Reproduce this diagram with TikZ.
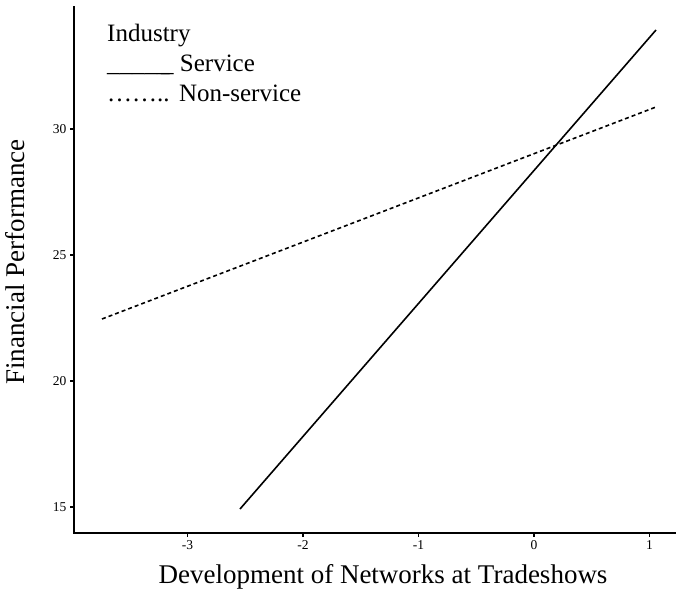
\documentclass[tikz,border=0pt]{standalone}
\usepackage{fontspec}
\setmainfont{Liberation Serif}
\begin{document}
\begin{tikzpicture}[x=1pt,y=1pt,
  axisline/.style={line width=2pt, line cap=rect},
  tickmark/.style={line width=1.2pt},
  ticklab/.style={font=\fontsize{13.5}{15}\selectfont, inner sep=0pt},
  servline/.style={line width=1.6pt},
  nonservline/.style={line width=1.6pt, dash pattern=on 4pt off 3pt},
  legtext/.style={font=\fontsize{25}{30}\selectfont, inner sep=0pt, anchor=base west},
  axlab/.style={font=\fontsize{27}{32}\selectfont, inner sep=0pt}
]
\useasboundingbox (0,0) rectangle (676,595);
% axes
\coordinate (ytop) at (74,588);
\coordinate (origin) at (74,62);
\coordinate (xend) at (676,62);
\draw[axisline] (ytop) -- (origin) -- (xend);
% y ticks: Y = 88 + 25.2 (y-15)
\foreach \v/\yy in {15/88, 20/214, 25/340, 30/466} {
  \coordinate (yt\v) at (74,\yy);
  \draw[tickmark] (yt\v) -- ++(-4,0) node[ticklab, anchor=east, xshift=-3pt] (ylab\v) {\v};
}
% x ticks: X = 534 + 115.5 x
\foreach \v/\xx in {-3/187.5, -2/303, -1/418.5, 0/534, 1/649.5} {
  \coordinate (xt\v) at (\xx,62);
  \draw[tickmark] (xt\v) -- ++(0,-4) node[ticklab, anchor=north, yshift=-3pt] (xlab\v) {\v};
}
% lines
\coordinate (s1) at (240,86);
\coordinate (s2) at (656,565);
\coordinate (n1) at (102,276);
\coordinate (n2) at (656,488);
\draw[servline] (s1) -- (s2);
\draw[nonservline] (n1) -- (n2);
% legend
\node[legtext] (legtitle) at (107,553) {Industry};
\node[legtext] (legserv) at (107,523) {\_\_\_\_\_\kern-8.5pt\_ Service};
\node[legtext] (legnon) at (107,493) {……..\kern1pt{} Non-service};
% axis labels
\node[axlab, anchor=base] (xlabel) at (383,12) {Development of Networks at Tradeshows};
\node[axlab, rotate=90] (ylabel) at (15,333) {Financial Performance};
\end{tikzpicture}
\end{document}
